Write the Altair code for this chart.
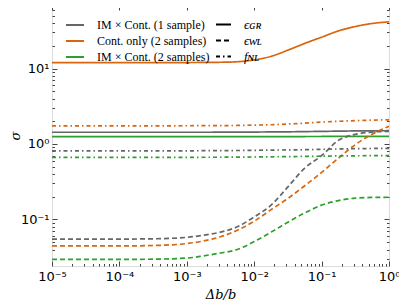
import altair as alt
import pandas as pd

# x grid (Δb/b)
x_vals = [1e-5, 1e-4, 3.16e-4, 1e-3, 1.78e-3, 3.16e-3, 5.62e-3, 1e-2,
          1.78e-2, 3.16e-2, 5.62e-2, 0.1, 0.178, 0.316, 0.562, 1.0]

series_names = ["IM × Cont. (1 sample)", "Cont. only (2 samples)", "IM × Cont. (2 samples)"]
series_colors = ["#666666", "#d9660f", "#2ca02c"]
param_names = ["ϵɢʀ", "ϵᴡʟ", "fɴʟ"]

gray_gr = [1.43, 1.43, 1.43, 1.43, 1.43, 1.435, 1.44, 1.44, 1.445, 1.45, 1.46, 1.47, 1.48, 1.49, 1.495, 1.50]
orange_gr = [12.0, 12.0, 12.0, 12.0, 12.05, 12.1, 12.3, 13.0, 14.5, 17.5, 21.5, 26.0, 31.5, 36.0, 39.5, 41.5]
green_gr = [1.25, 1.25, 1.25, 1.25, 1.25, 1.25, 1.25, 1.25, 1.252, 1.254, 1.256, 1.258, 1.26, 1.26, 1.26, 1.26]

gray_wl = [0.055, 0.055, 0.0555, 0.058, 0.062, 0.068, 0.080, 0.108, 0.155, 0.27, 0.48, 0.70, 1.12, 1.34, 1.44, 1.47]
orange_wl = [0.0446, 0.0446, 0.0452, 0.048, 0.052, 0.059, 0.072, 0.095, 0.135, 0.19, 0.28, 0.42, 0.65, 0.98, 1.35, 1.72]
green_wl = [0.0296, 0.0296, 0.0298, 0.0308, 0.033, 0.036, 0.040, 0.051, 0.068, 0.092, 0.122, 0.155, 0.178, 0.192, 0.196, 0.197]

gray_nl = [0.81, 0.81, 0.81, 0.812, 0.815, 0.818, 0.82, 0.825, 0.83, 0.835, 0.84, 0.85, 0.86, 0.867, 0.872, 0.875]
orange_nl = [1.74, 1.74, 1.74, 1.745, 1.75, 1.755, 1.76, 1.78, 1.80, 1.84, 1.89, 1.95, 2.00, 2.04, 2.07, 2.09]
green_nl = [0.665, 0.665, 0.665, 0.666, 0.667, 0.668, 0.67, 0.673, 0.677, 0.68, 0.685, 0.69, 0.695, 0.698, 0.70, 0.70]

x_major = [1e-5, 1e-4, 1e-3, 1e-2, 1e-1, 1.0]
x_major_labels = ["10⁻⁵", "10⁻⁴", "10⁻³", "10⁻²", "10⁻¹", "10⁰"]
y_major = [0.1, 1.0, 10.0]
y_major_labels = ["10⁻¹", "10⁰", "10¹"]
x_minor = [k * 10.0 ** e for e in range(-5, 0) for k in range(2, 10)]
y_minor = [k * 0.01 for k in range(3, 10)] + [k * 0.1 for k in range(2, 10)] + \
          [float(k) for k in range(2, 10)] + [k * 10.0 for k in range(2, 7)]

table = {
    ("IM × Cont. (1 sample)", "ϵɢʀ"): gray_gr,
    ("Cont. only (2 samples)", "ϵɢʀ"): orange_gr,
    ("IM × Cont. (2 samples)", "ϵɢʀ"): green_gr,
    ("IM × Cont. (1 sample)", "ϵᴡʟ"): gray_wl,
    ("Cont. only (2 samples)", "ϵᴡʟ"): orange_wl,
    ("IM × Cont. (2 samples)", "ϵᴡʟ"): green_wl,
    ("IM × Cont. (1 sample)", "fɴʟ"): gray_nl,
    ("Cont. only (2 samples)", "fɴʟ"): orange_nl,
    ("IM × Cont. (2 samples)", "fɴʟ"): green_nl,
}
rows = []
for (s, p), vals in table.items():
    for xv, v in zip(x_vals, vals):
        rows.append({"x": xv, "val": v, "series": s, "param": p})
df = pd.DataFrame(rows)


def label_expr(vals, labels):
    expr = "''"
    for v, lab in zip(vals, labels):
        expr = f"abs(datum.value - {v}) < {v * 0.01} ? '{lab}' : ({expr})"
    return expr


xs = alt.Scale(type="log", domain=[1e-5, 1.0], nice=False)
ys = alt.Scale(type="log", domain=[0.0242, 69.4], nice=False)

base = alt.Chart(df)
TICK = "#444444"
TICKFONT = "DejaVu Sans"


def xlayer(**kw):
    return base.mark_point(opacity=0, size=1).encode(
        x=alt.X("x:Q", scale=xs, axis=alt.Axis(grid=False, domain=False, tickColor=TICK, **kw)),
        y=alt.Y("val:Q", scale=ys, axis=None),
    )


def ylayer(**kw):
    return base.mark_point(opacity=0, size=1).encode(
        x=alt.X("x:Q", scale=xs, axis=None),
        y=alt.Y("val:Q", scale=ys, axis=alt.Axis(grid=False, domain=False, tickColor=TICK, **kw)),
    )


MAJ, MIN = 5, 2.5

x_bottom = xlayer(orient="bottom", values=x_major, offset=-MAJ, tickSize=MAJ,
                  labelExpr=label_expr(x_major, x_major_labels), labelFont=TICKFONT,
                  labelFontSize=13, labelColor="black", labelPadding=4, labelFlush=False,
                  title="Δb/b", titleFont="DejaVu Serif", titleFontStyle="italic",
                  titleFontWeight="normal", titleFontSize=13, titlePadding=5, titleColor="black")
x_bottom_minor = xlayer(orient="bottom", values=x_minor, offset=-MIN, tickSize=MIN,
                        labels=False, title=None)
x_top = xlayer(orient="top", values=x_major, offset=-MAJ, tickSize=MAJ, labels=False, title=None)
x_top_minor = xlayer(orient="top", values=x_minor, offset=-MIN, tickSize=MIN, labels=False, title=None)
x_top_line = base.mark_point(opacity=0, size=1).encode(
    x=alt.X("x:Q", scale=xs, axis=alt.Axis(orient="top", grid=False, ticks=False, labels=False,
                                           title=None, domain=True, domainColor="black",
                                           domainWidth=1)),
    y=alt.Y("val:Q", scale=ys, axis=None),
)

y_left = ylayer(orient="left", values=y_major, offset=-MAJ, tickSize=MAJ,
                labelExpr=label_expr(y_major, y_major_labels), labelFont=TICKFONT,
                labelFontSize=13, labelColor="black", labelPadding=3, labelFlush=False,
                title="σ", titleFont="DejaVu Serif", titleFontStyle="italic",
                titleFontWeight="normal", titleFontSize=13, titlePadding=-2, titleColor="black")
y_left_minor = ylayer(orient="left", values=y_minor, offset=-MIN, tickSize=MIN, labels=False, title=None)
y_right = ylayer(orient="right", values=y_major, offset=-MAJ, tickSize=MAJ, labels=False, title=None)
y_right_minor = ylayer(orient="right", values=y_minor, offset=-MIN, tickSize=MIN, labels=False, title=None)

LEGFONT = "Liberation Serif"
lines = base.mark_line(strokeWidth=1.7, interpolate="monotone", clip=True).encode(
    x=alt.X("x:Q", scale=xs, axis=None),
    y=alt.Y("val:Q", scale=ys, axis=None),
    color=alt.Color("series:N", scale=alt.Scale(domain=series_names, range=series_colors),
                    legend=alt.Legend(orient="none", legendX=13, legendY=10, title=None,
                                      symbolType="stroke", symbolSize=324, symbolStrokeWidth=2,
                                      labelFont=LEGFONT, labelFontSize=12, labelColor="black",
                                      labelOffset=12, rowPadding=-5, padding=0,
                                      labelLimit=300)),
    strokeDash=alt.StrokeDash("param:N",
                              scale=alt.Scale(domain=param_names,
                                              range=[[1, 0], [5, 3], [4, 3, 1.5, 3]]),
                              legend=alt.Legend(orient="none", legendX=163, legendY=11, title=None,
                                                symbolType="stroke", symbolSize=225,
                                                symbolStrokeWidth=2, symbolStrokeColor="black",
                                                labelFont=LEGFONT, labelFontSize=13,
                                                labelFontStyle="italic", labelColor="black",
                                                labelOffset=12, rowPadding=-2, padding=0)),
)

chart = alt.layer(
    x_bottom, x_bottom_minor, x_top, x_top_minor,
    y_left, y_left_minor, y_right, y_right_minor, lines, x_top_line,
).resolve_axis(x="independent", y="independent").resolve_scale(
    x="shared", y="shared"
).properties(
    width=337, height=261,
    autosize=alt.AutoSizeParams(type="none"),
    padding={"left": 44, "top": -3, "right": 10, "bottom": 40},
).configure_view(stroke="#8a8a8a", strokeWidth=2).configure(background="white")

chart.save("out.html", embed_options={"renderer": "svg", "actions": False})
